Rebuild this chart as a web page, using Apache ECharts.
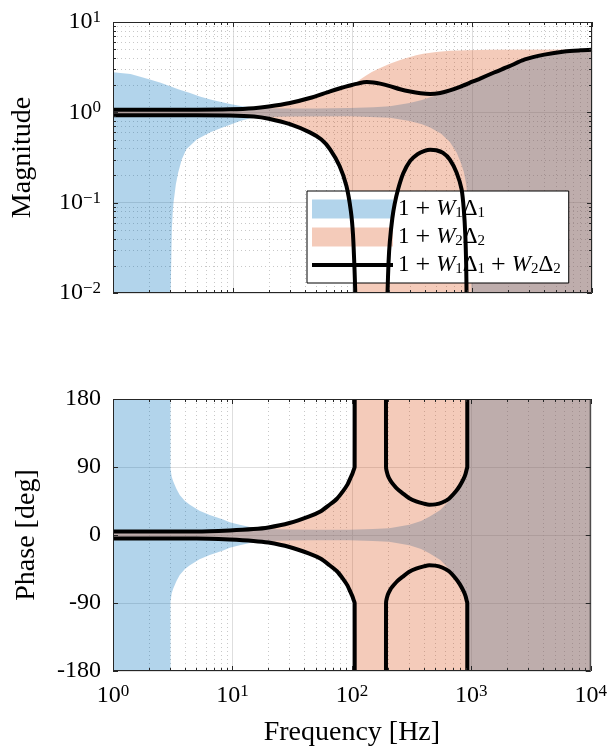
<!DOCTYPE html>
<html>
<head>
<meta charset="utf-8">
<script src="https://cdn.jsdelivr.net/npm/echarts@6/dist/echarts.min.js"></script>
<style>
  html, body { margin: 0; padding: 0; background: #fff; }
  #chart { width: 610px; height: 750px; }
</style>
</head>
<body>
<div id="chart"></div>
<script>
// ---- Uncertainty bounds, [frequency Hz, value] ----
// 1 + W1Δ1 : magnitude envelope
const w1MagUpper = [[1,2.78],[1.4,2.66],[2,2.33],[2.5,2.13],[3,1.95],[3.5,1.8],[4.4,1.64],[5.3,1.5],[6.5,1.39],[8,1.3],[9.5,1.24],[12,1.17],[15,1.13],[20,1.11],[30,1.1],[50,1.1],[95,1.12],[150,1.14],[205,1.17],[300,1.27],[380,1.37],[445,1.47],[550,1.6],[650,1.74],[800,1.92],[1000,2.15],[1300,2.52],[1600,2.85],[2000,3.2],[2750,3.8],[4000,4.3],[6000,4.7],[10000,4.88]];
const w1MagLower = [[1,0.01],[3.03,0.01],[3.1,0.05],[3.15,0.077],[3.2,0.1],[3.35,0.16],[3.5,0.215],[3.75,0.3],[4.1,0.39],[5,0.5],[6.5,0.6],[8,0.67],[9.5,0.73],[11.5,0.8],[14,0.86],[20,0.89],[30,0.9],[95,0.905],[205,0.87],[300,0.8],[380,0.74],[445,0.68],[550,0.58],[650,0.47],[740,0.36],[800,0.28],[850,0.22],[890,0.16],[940,0.08],[965,0.04],[985,0.01],[10000,0.01]];
// 1 + W2Δ2 : magnitude envelope
const w2MagUpper = [[1,1.065],[5,1.065],[10,1.075],[15,1.1],[20,1.15],[30,1.26],[44,1.43],[65,1.7],[80,1.85],[95,1.97],[106,2.08],[115,2.3],[130,2.55],[145,2.8],[170,3.1],[205,3.45],[250,3.8],[283,4.0],[340,4.28],[390,4.45],[500,4.65],[650,4.8],[900,4.88],[1400,4.93],[10000,4.95]];
const w2MagLower = [[1,0.935],[5,0.935],[10,0.93],[15,0.91],[20,0.855],[30,0.745],[44,0.605],[55,0.5],[65,0.395],[78,0.26],[89,0.155],[95,0.1],[99,0.06],[102,0.03],[103.5,0.01],[10000,0.01]];
// 1 + W1Δ1 + W2Δ2 : magnitude envelope
const sumMagUpper = [[1,1.07],[5,1.07],[9.5,1.08],[15,1.11],[20,1.16],[30,1.27],[44,1.44],[65,1.71],[80,1.86],[95,1.98],[110,2.08],[132,2.16],[150,2.14],[170,2.08],[205,1.95],[250,1.8],[303,1.7],[370,1.63],[445,1.6],[540,1.64],[650,1.75],[800,1.93],[950,2.12],[1150,2.35],[1540,2.78],[2000,3.2],[2750,3.85],[4000,4.35],[5900,4.72],[8000,4.86],[10000,4.92]];
const sumMagLowerA = [[1,0.93],[5,0.93],[9.5,0.925],[15,0.9],[20,0.85],[30,0.74],[44,0.6],[55,0.5],[65,0.39],[78,0.255],[89,0.153],[97,0.08],[101,0.044],[104,0.018],[105.5,0.01]];
const sumMagLowerB = [[196,0.01],[200,0.022],[205,0.037],[215,0.067],[225,0.097],[240,0.14],[265,0.21],[303,0.29],[350,0.345],[400,0.375],[445,0.386],[500,0.38],[570,0.355],[650,0.3],[740,0.215],[815,0.14],[850,0.084],[875,0.044],[890,0.02],[896,0.01]];

// Phase envelopes (deg)
const w1PhaseUpper = [[1,180],[3.03,180],[3.03,88],[3.1,77],[3.19,71],[3.4,61],[3.62,53],[4,45],[4.4,40],[5.3,32],[6.45,26.5],[8.35,20.5],[9.5,17],[11.5,13.5],[14,10.5],[20,8],[30,7.2],[50,7],[95,7],[150,7.8],[205,8.8],[303,13.6],[380,18.5],[445,24],[550,33],[650,45],[740,57],[790,65],[850,74],[900,81],[930,86],[955,89],[960,180],[10000,180]];
const w1PhaseLower = [[1,-180],[3.03,-180],[3.03,-88],[3.1,-77],[3.19,-71],[3.4,-61],[3.62,-53],[4,-45],[4.4,-40],[5.3,-32],[6.45,-26.5],[8.35,-20.5],[9.5,-17],[11.5,-13.5],[14,-10.5],[20,-8],[30,-7.2],[50,-7],[95,-7],[150,-7.8],[205,-8.8],[303,-13.6],[380,-18.5],[445,-24],[550,-33],[650,-45],[740,-57],[790,-65],[850,-74],[900,-81],[930,-86],[955,-89],[960,-180],[10000,-180]];
const w2PhaseUpper = [[1,4.2],[9.5,5.8],[20,9.7],[30,15.5],[44,24.3],[55,31],[65,39.5],[75,47],[84,57],[92,66],[97,74],[101,80],[103.5,88],[103.6,180],[10000,180]];
const w2PhaseLower = [[1,-4.2],[9.5,-5.8],[20,-9.7],[30,-15.5],[44,-24.3],[55,-31],[65,-39.5],[75,-47],[84,-57],[92,-66],[97,-74],[101,-80],[103.5,-88],[103.6,-180],[10000,-180]];
const sumPhaseUpperA = [[1,4.5],[5,4.6],[9.5,6],[15,7.8],[20,10],[30,15.9],[44,24.7],[55,31.5],[65,40],[75,48],[84,57.7],[92,67],[97,75],[101,81],[104,87],[105.5,90],[105.6,180]];
const sumPhaseLowerA = [[1,-4.5],[5,-4.6],[9.5,-6],[15,-7.8],[20,-10],[30,-15.9],[44,-24.7],[55,-31.5],[65,-40],[75,-48],[84,-57.7],[92,-67],[97,-75],[101,-81],[104,-87],[105.5,-90],[105.6,-180]];
const sumPhaseUpperB = [[193,180],[193.2,90],[200,79],[210,72],[218,68.5],[240,61],[265,55.5],[300,49],[345,44.5],[400,41.5],[445,40],[500,40.5],[570,43],[650,48],[740,57.5],[800,65],[865,75],[895,81],[915,87],[925,90],[925.2,180]];
const sumPhaseLowerB = [[193,-180],[193.2,-90],[200,-79],[210,-72],[218,-68.5],[240,-61],[265,-55.5],[300,-49],[345,-44.5],[400,-41.5],[445,-40],[500,-40.5],[570,-43],[650,-48],[740,-57.5],[800,-65],[865,-75],[895,-81],[915,-87],[925,-90],[925.2,-180]];

// ---- Axis ticks ----
const freqDecades = [1, 10, 100, 1000, 10000];
const magDecades = [0.01, 0.1, 1, 10];
const phaseTicks = [-180, -90, 0, 90, 180];

// ---- Style ----
const SERIF = '"Liberation Serif", "Times New Roman", serif';
const BLUE = 'rgba(0,114,189,0.3)';
const ORANGE = 'rgba(217,83,25,0.3)';
const FRAME = '#262626';
const NAME1 = '1 + W1Δ1';
const NAME2 = '1 + W2Δ2';
const NAME3 = '1 + W1Δ1 + W2Δ2';

function minorsOf(decades) {
  const out = [];
  for (let i = 0; i < decades.length - 1; i++) {
    for (let m = 2; m <= 9; m++) out.push(+(m * decades[i]).toPrecision(3));
  }
  return out;
}
const freqMinor = minorsOf(freqDecades);
const magMinor = minorsOf(magDecades);

// Filled region between an upper and a lower envelope
function band(name, upper, lower, color, gi) {
  return {
    type: 'custom', name, xAxisIndex: gi, yAxisIndex: gi,
    data: [upper[0]], z: 2, silent: true,
    itemStyle: { color },
    renderItem(params, api) {
      const pts = upper.map(p => api.coord(p))
        .concat(lower.slice().reverse().map(p => api.coord(p)));
      return { type: 'polygon', shape: { points: pts }, style: { fill: color } };
    }
  };
}

function curve(name, pts, gi) {
  return {
    type: 'line', name, xAxisIndex: gi, yAxisIndex: gi, data: pts,
    symbol: 'none', showSymbol: false, smooth: 0.25, clip: true,
    lineStyle: { color: '#000', width: 4 }, itemStyle: { color: '#000' },
    z: 4, silent: true
  };
}

// Minor grid (under the data)
function gridUnder(gi, xs, ys, yRef) {
  return {
    type: 'custom', xAxisIndex: gi, yAxisIndex: gi, data: [[1, yRef]], z: 1, silent: true,
    renderItem(params, api) {
      const cs = params.coordSys;
      const kids = [];
      const st = { stroke: '#c8c8c8', lineWidth: 1, lineDash: [1, 3] };
      xs.forEach(v => {
        const px = Math.round(api.coord([v, yRef])[0]) + 0.5;
        kids.push({ type: 'line', shape: { x1: px, y1: cs.y, x2: px, y2: cs.y + cs.height }, style: st });
      });
      ys.forEach(v => {
        const py = Math.round(api.coord([1, v])[1]) + 0.5;
        kids.push({ type: 'line', shape: { x1: cs.x, y1: py, x2: cs.x + cs.width, y2: py }, style: st });
      });
      return { type: 'group', children: kids };
    }
  };
}

// Box and tick marks on all four sides (over the data)
function frameOver(gi, xMaj, xMin, yMaj, yMin, yRef) {
  return {
    type: 'custom', xAxisIndex: gi, yAxisIndex: gi, data: [[1, yRef]], z: 10, silent: true,
    renderItem(params, api) {
      const cs = params.coordSys;
      const kids = [];
      const st = { stroke: FRAME, lineWidth: 1 };
      const L = cs.x, R = cs.x + cs.width, T = cs.y, B = cs.y + cs.height;
      const addX = (v, len) => {
        const px = Math.round(api.coord([v, yRef])[0]) + 0.5;
        kids.push({ type: 'line', shape: { x1: px, y1: B, x2: px, y2: B - len }, style: st });
        kids.push({ type: 'line', shape: { x1: px, y1: T, x2: px, y2: T + len }, style: st });
      };
      const addY = (v, len) => {
        const py = Math.round(api.coord([1, v])[1]) + 0.5;
        kids.push({ type: 'line', shape: { x1: L, y1: py, x2: L + len, y2: py }, style: st });
        kids.push({ type: 'line', shape: { x1: R, y1: py, x2: R - len, y2: py }, style: st });
      };
      xMaj.forEach(v => addX(v, 5));
      xMin.forEach(v => addX(v, 3));
      yMaj.forEach(v => addY(v, 5));
      yMin.forEach(v => addY(v, 3));
      kids.push({ type: 'rect', shape: { x: L + 0.5, y: T + 0.5, width: cs.width - 1, height: cs.height - 1 },
        style: { fill: null, stroke: FRAME, lineWidth: 1 } });
      return { type: 'group', children: kids };
    }
  };
}

const powRich = {
  b: { fontFamily: SERIF, fontSize: 24, color: '#000', lineHeight: 26 },
  e: { fontFamily: SERIF, fontSize: 17, color: '#000', verticalAlign: 'top', lineHeight: 17 }
};
function powLabel(v) {
  const k = Math.round(Math.log10(v));
  return '{b|10}{e|' + (k < 0 ? '\u2212' + (-k) : k) + '}';
}

const legendText = {};
legendText[NAME1] = '{n|1}{p|+}{i|W}{s|1}{n|Δ}{s|1}';
legendText[NAME2] = '{n|1}{p|+}{i|W}{s|2}{n|Δ}{s|2}';
legendText[NAME3] = '{n|1}{p|+}{i|W}{s|1}{n|Δ}{s|1}{p|+}{i|W}{s|2}{n|Δ}{s|2}';

const splitStyle = { show: true, lineStyle: { color: '#dedede', width: 1 } };
const nameStyle = { fontFamily: SERIF, fontSize: 28, color: '#000' };

const option = {
  animation: false,
  backgroundColor: '#fff',
  grid: [
    { left: 113, top: 22, width: 479, height: 271 },
    { left: 113, top: 399, width: 479, height: 272 }
  ],
  xAxis: [
    { type: 'log', gridIndex: 0, logBase: 10, min: 1, max: 10000,
      axisLine: { show: false }, axisTick: { show: false }, axisLabel: { show: false },
      splitLine: splitStyle },
    { type: 'log', gridIndex: 1, logBase: 10, min: 1, max: 10000,
      axisLine: { show: false }, axisTick: { show: false },
      axisLabel: { formatter: powLabel, rich: powRich, margin: 12 },
      splitLine: splitStyle,
      name: 'Frequency [Hz]', nameLocation: 'middle', nameGap: 48, nameTextStyle: nameStyle }
  ],
  yAxis: [
    { type: 'log', gridIndex: 0, logBase: 10, min: 0.01, max: 10,
      axisLine: { show: false }, axisTick: { show: false },
      axisLabel: { formatter: powLabel, rich: powRich, margin: 12 },
      splitLine: splitStyle,
      name: 'Magnitude', nameLocation: 'middle', nameGap: 76, nameTextStyle: nameStyle },
    { type: 'value', gridIndex: 1, min: -180, max: 180, interval: 90,
      axisLine: { show: false }, axisTick: { show: false },
      axisLabel: { fontFamily: SERIF, fontSize: 24, color: '#000', margin: 12 },
      splitLine: splitStyle,
      name: 'Phase [deg]', nameLocation: 'middle', nameGap: 72, nameTextStyle: nameStyle }
  ],
  legend: {
    left: 307, top: 191, orient: 'vertical',
    padding: [5, 8, 5, 3], itemGap: 2, itemWidth: 81, itemHeight: 19,
    backgroundColor: '#fff', borderColor: '#000', borderWidth: 1, borderRadius: 0,
    selectedMode: false,
    data: [
      { name: NAME1, icon: 'rect', itemStyle: { color: BLUE } },
      { name: NAME2, icon: 'rect', itemStyle: { color: ORANGE } },
      { name: NAME3, itemStyle: { opacity: 0 } }
    ],
    lineStyle: { width: 4, color: '#000' },
    formatter: n => legendText[n],
    textStyle: {
      fontFamily: SERIF, fontSize: 23, color: '#000',
      rich: {
        n: { fontFamily: SERIF, fontSize: 23, color: '#000', lineHeight: 24 },
        p: { fontFamily: SERIF, fontSize: 26, color: '#000', lineHeight: 24, padding: [0, 6, 0, 6] },
        i: { fontFamily: SERIF, fontSize: 23, fontStyle: 'italic', color: '#000', lineHeight: 24 },
        s: { fontFamily: SERIF, fontSize: 15, color: '#000', verticalAlign: 'bottom', lineHeight: 15 }
      }
    }
  },
  series: [
    gridUnder(0, freqMinor, magMinor, 1),
    gridUnder(1, freqMinor, [], 0),
    band(NAME1, w1MagUpper, w1MagLower, BLUE, 0),
    band(NAME2, w2MagUpper, w2MagLower, ORANGE, 0),
    band(NAME1, w1PhaseUpper, w1PhaseLower, BLUE, 1),
    band(NAME2, w2PhaseUpper, w2PhaseLower, ORANGE, 1),
    curve(NAME3, sumMagUpper, 0),
    curve(NAME3, sumMagLowerA, 0),
    curve(NAME3, sumMagLowerB, 0),
    curve(NAME3, sumPhaseUpperA, 1),
    curve(NAME3, sumPhaseLowerA, 1),
    curve(NAME3, sumPhaseUpperB, 1),
    curve(NAME3, sumPhaseLowerB, 1),
    frameOver(0, freqDecades, freqMinor, magDecades, magMinor, 1),
    frameOver(1, freqDecades, freqMinor, phaseTicks, [], 0)
  ]
};

const chart = echarts.init(document.getElementById('chart'), null, { renderer: 'canvas' });
chart.setOption(option);
</script>
</body>
</html>
